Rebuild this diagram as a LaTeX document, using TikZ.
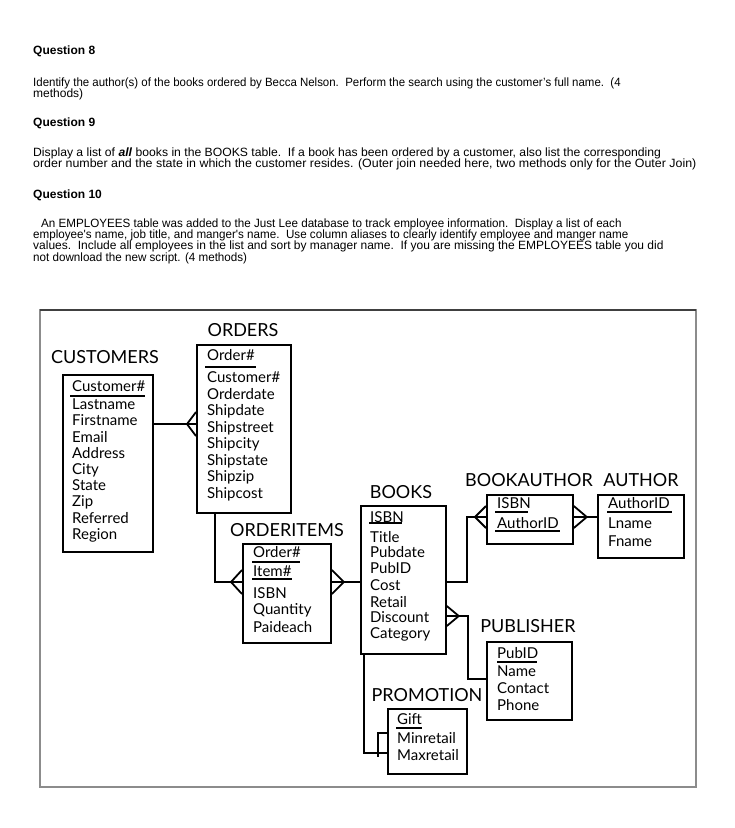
\documentclass[tikz,border=0pt]{standalone}
\usepackage{fontspec}
\setmainfont{Liberation Sans}
\newfontfamily\erfont{Lato}
\begin{document}
\begin{tikzpicture}[x=1pt,y=-1pt,
  tbl/.style={draw, line width=1.8pt, inner sep=0pt, anchor=north west},
  row/.style={anchor=base west, inner sep=0pt, font=\erfont\fontsize{15}{16}\selectfont},
  ttl/.style={anchor=base, inner sep=0pt, font=\erfont\fontsize{18}{20}\selectfont},
  qtxt/.style={anchor=base west, inner sep=0pt, font=\fontsize{12}{13}\selectfont},
  qhead/.style={qtxt, font=\bfseries\fontsize{12}{13}\selectfont},
  conn/.style={line width=1.8pt},
  ul/.style={line width=1.3pt},
  frame/.style={draw=black!45, line width=2pt}]
\useasboundingbox (0,0) rectangle (735,828);
\fill[white] (0,0) rectangle (735,828);

% ---------------- question text ----------------
\node[qhead] (q8) at (33,54) {Question 8};
\node[qtxt] (q8a) at (33,86) {\scalebox{0.955}[1]{Identify the author(s) of the books ordered by Becca Nelson.\ \ Perform the search using the customer’s full name.\ \ (4}};
\node[qtxt] (q8b) at (33,97) {methods)};
\node[qhead] (q9) at (33,126) {Question 9};
\node[qtxt] (q9a) at (33,156) {\scalebox{1.015}[1]{Display a list of \textbf{\textit{all}} books in the BOOKS table.\ \ If a book has been ordered by a customer, also list the corresponding}};
\node[qtxt] (q9b) at (33,167) {\scalebox{1.035}[1]{order number and the state in which the customer resides. (Outer join needed here, two methods only for the Outer Join)}};
\node[qhead] (q10) at (33,198) {Question 10};
\node[qtxt] (q10a) at (41,227) {\scalebox{0.97}[1]{An EMPLOYEES table was added to the Just Lee database to track employee information.\ \ Display a list of each}};
\node[qtxt] (q10b) at (33,238) {\scalebox{0.97}[1]{employee\textquotesingle s name, job title, and manger\textquotesingle s name.\ \ Use column aliases to clearly identify employee and manger name}};
\node[qtxt] (q10c) at (33,249) {values.\ \ Include all employees in the list and sort by manager name.\ \ If you are missing the EMPLOYEES table you did};
\node[qtxt] (q10d) at (33,261) {\scalebox{0.97}[1]{not download the new script. (4 methods)}};

% ---------------- frame ----------------
\draw[frame] (40,310) rectangle (696,787);
\draw[draw=black!75, line width=1.2pt] (40,310) -- (696,310);

% ---------------- tables ----------------
% CUSTOMERS
\node[ttl] (custT) at (105,363.5) {CUSTOMERS};
\node[tbl, minimum width=90pt, minimum height=177pt] (cust) at (62,374) {};
\foreach \y/\t [count=\i] in {386/Customer\#,404/Lastname,420/Firstname,437/Email,453/Address,469/City,485/State,501/Zip,518/Referred,534/Region}
  \node[row] (cust-\i) at (72,\y+5) {\t};
\draw[ul] (70,396) -- (145,396);

% ORDERS
\node[ttl] (ordT) at (243,336.5) {ORDERS};
\node[tbl, minimum width=94pt, minimum height=168pt] (ord) at (196,344) {};
\foreach \y/\t [count=\i] in {355/Order\#,377/Customer\#,394/Orderdate,410/Shipdate,427/Shipstreet,443/Shipcity,460/Shipstate,476/Shipzip,493/Shipcost}
  \node[row] (ord-\i) at (207,\y+5) {\t};
\draw[ul] (205,367) -- (256,367);

% ORDERITEMS
\node[ttl] (oiT) at (287,536.5) {ORDERITEMS};
\node[tbl, minimum width=88pt, minimum height=99pt] (oi) at (242,543) {};
\foreach \y/\t [count=\i] in {552/Order\#,571/Item\#,593/ISBN,609/Quantity,627/Paideach}
  \node[row] (oi-\i) at (253,\y+5) {\t};
\draw[ul] (252,562) -- (300,562);
\draw[ul] (252,579) -- (292,579);

% BOOKS
\node[ttl] (bkT) at (401,498.5) {BOOKS};
\node[tbl, minimum width=85pt, minimum height=148pt] (bk) at (360,505) {};
\foreach \y/\t [count=\i] in {517/ISBN,537/Title,552/Pubdate,568/PubID,585/Cost,602/Retail,617/Discount,633/Category}
  \node[row] (bk-\i) at (370,\y+5) {\t};
\draw[ul] (369,523) -- (402,523);

% BOOKAUTHOR
\node[ttl] (baT) at (529,486.5) {BOOKAUTHOR};
\node[tbl, minimum width=86pt, minimum height=49pt] (ba) at (486,494) {};
\foreach \y/\t [count=\i] in {503/ISBN,523/AuthorID}
  \node[row] (ba-\i) at (497,\y+5) {\t};
\draw[ul] (495,512) -- (528,512);
\draw[ul] (495,531) -- (560,531);

% AUTHOR
\node[ttl] (auT) at (641,486.5) {AUTHOR};
\node[tbl, minimum width=86pt, minimum height=63pt] (au) at (597,494) {};
\foreach \y/\t [count=\i] in {503/AuthorID,523/Lname,541/Fname}
  \node[row] (au-\i) at (608,\y+5) {\t};
\draw[ul] (607,512) -- (672,512);

% PUBLISHER
\node[ttl] (pubT) at (528,632.5) {PUBLISHER};
\node[tbl, minimum width=85pt, minimum height=78pt] (pub) at (486,641) {};
\foreach \y/\t [count=\i] in {653/PubID,671/Name,688/Contact,705/Phone}
  \node[row] (pub-\i) at (497,\y+5) {\t};
\draw[ul] (497,662) -- (537,662);

% PROMOTION
\node[ttl] (proT) at (427,701.5) {PROMOTION};
\node[tbl, minimum width=79pt, minimum height=65pt] (pro) at (387,708) {};
\foreach \y/\t [count=\i] in {719/Gift,738/Minretail,755/Maxretail}
  \node[row] (pro-\i) at (397,\y+5) {\t};
\draw[ul] (396,728) -- (422,728);

% ---------------- connectors ----------------
\coordinate (y424) at (0,424);
\coordinate (y582) at (0,582);
\coordinate (y517) at (0,517);
\coordinate (y616) at (0,616);
\coordinate (y679) at (0,679);
\coordinate (y753) at (0,753);

% CUSTOMERS - ORDERS
\draw[conn] (cust.east |- y424) -- (ord.west |- y424);
\draw[conn] ([xshift=-9pt]ord.west |- y424) -- ([yshift=12pt]ord.west |- y424);
\draw[conn] ([xshift=-9pt]ord.west |- y424) -- ([yshift=-12pt]ord.west |- y424);

% ORDERS - ORDERITEMS
\coordinate (oc) at (215,512);
\draw[conn] (oc |- ord.south) -- (oc |- y582) -- (oi.west |- y582);
\draw[conn] ([xshift=-11pt]oi.west |- y582) -- ([yshift=12pt]oi.west |- y582);
\draw[conn] ([xshift=-11pt]oi.west |- y582) -- ([yshift=-12pt]oi.west |- y582);

% ORDERITEMS - BOOKS
\draw[conn] (oi.east |- y582) -- (bk.west |- y582);
\draw[conn] ([xshift=12pt]oi.east |- y582) -- ([yshift=12pt]oi.east |- y582);
\draw[conn] ([xshift=12pt]oi.east |- y582) -- ([yshift=-12pt]oi.east |- y582);

% BOOKS - BOOKAUTHOR
\coordinate (bc) at (467,0);
\draw[conn] (bk.east |- y582) -- (bc |- y582) -- (bc |- y517) -- (ba.west |- y517);
\draw[conn] ([xshift=-11pt]ba.west |- y517) -- ([yshift=11pt]ba.west |- y517);
\draw[conn] ([xshift=-11pt]ba.west |- y517) -- ([yshift=-11pt]ba.west |- y517);

% BOOKAUTHOR - AUTHOR
\draw[conn] (ba.east |- y517) -- (au.west |- y517);
\draw[conn] ([xshift=13pt]ba.east |- y517) -- ([yshift=11pt]ba.east |- y517);
\draw[conn] ([xshift=13pt]ba.east |- y517) -- ([yshift=-11pt]ba.east |- y517);

% BOOKS - PUBLISHER
\coordinate (pc) at (468,0);
\draw[conn] (bk.east |- y616) -- (pc |- y616) -- (pc |- y679) -- (pub.west |- y679);
\draw[conn] ([xshift=12pt]bk.east |- y616) -- ([yshift=10pt]bk.east |- y616);
\draw[conn] ([xshift=12pt]bk.east |- y616) -- ([yshift=-10pt]bk.east |- y616);

% BOOKS - PROMOTION
\coordinate (mc) at (364,0);
\draw[conn] (mc |- bk.south) -- (mc |- y753) -- (pro.west |- y753);
\coordinate (br) at (378,733);
\draw[conn] (pro.west |- br) -- (br) -- ([yshift=-24pt]br);

\end{tikzpicture}
\end{document}
